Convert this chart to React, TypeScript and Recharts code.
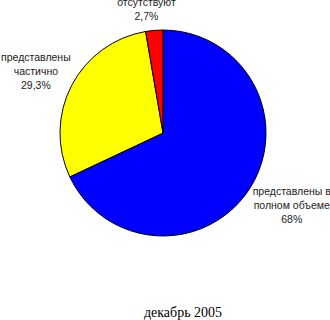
import { Cell, Pie, PieChart } from "recharts";

const CATEGORIES = ["представлены в\nполном объеме", "представлены\nчастично", "отсутствуют"];
const SHARES = [68, 29.3, 2.7];
const COLORS = ["#0000ff", "#ffff00", "#ff0000"];
const TITLE = "декабрь 2005";

const CX = 163;
const CY = 133;
const RADIUS = 103;
const LINE_HEIGHT = 14;

// label anchor: distance beyond the rim along the slice middle, then a small nudge
const LABEL_PLACEMENT = [
  { extra: 40, dx: 8, dy: -5 },
  { extra: 37, dx: -3, dy: 3 },
  { extra: 21, dx: -6, dy: 0 },
];

const rows = CATEGORIES.map((name, i) => ({ name, value: SHARES[i] }));

const RADIAN = Math.PI / 180;

function formatShare(value: number): string {
  return `${String(value).replace(".", ",")}%`;
}

function renderSliceLabel(props: any) {
  const { cx, cy, midAngle, outerRadius, index, value } = props;
  const place = LABEL_PLACEMENT[index] ?? { extra: 30, dx: 0, dy: 0 };
  const d = outerRadius + place.extra;
  const x = cx + d * Math.cos(-midAngle * RADIAN) + place.dx;
  const y = cy + d * Math.sin(-midAngle * RADIAN) + place.dy;
  const lines = [...rows[index].name.split("\n"), formatShare(value)];
  const firstBaseline = y - ((lines.length - 1) * LINE_HEIGHT) / 2 + 4;

  return (
    <text
      key={`label-${index}`}
      x={x}
      y={firstBaseline}
      textAnchor="middle"
      fill="#222"
      fontFamily="Arial, 'Liberation Sans', sans-serif"
      fontSize={10.5}
    >
      {lines.map((line, i) => (
        <tspan key={i} x={x} y={firstBaseline + i * LINE_HEIGHT}>
          {line}
        </tspan>
      ))}
    </text>
  );
}

export default function App() {
  return (
    <div
      style={{
        position: "absolute",
        left: 0,
        top: 0,
        width: 330,
        height: 320,
        background: "#fff",
        overflow: "hidden",
      }}
    >
      <PieChart width={330} height={320} margin={{ top: 0, right: 0, bottom: 0, left: 0 }}>
        <Pie
          data={rows}
          dataKey="value"
          nameKey="name"
          cx={CX}
          cy={CY}
          outerRadius={RADIUS}
          startAngle={90}
          endAngle={-270}
          stroke="#000"
          strokeWidth={1}
          label={renderSliceLabel}
          labelLine={false}
          isAnimationActive={false}
        >
          {rows.map((row, i) => (
            <Cell key={row.name} fill={COLORS[i]} />
          ))}
        </Pie>
      </PieChart>
      <div
        style={{
          position: "absolute",
          left: 103,
          top: 305,
          width: 160,
          textAlign: "center",
          fontFamily: "'Times New Roman', 'Liberation Serif', serif",
          fontSize: 14,
          lineHeight: "16px",
          color: "#000",
        }}
      >
        {TITLE}
      </div>
    </div>
  );
}
